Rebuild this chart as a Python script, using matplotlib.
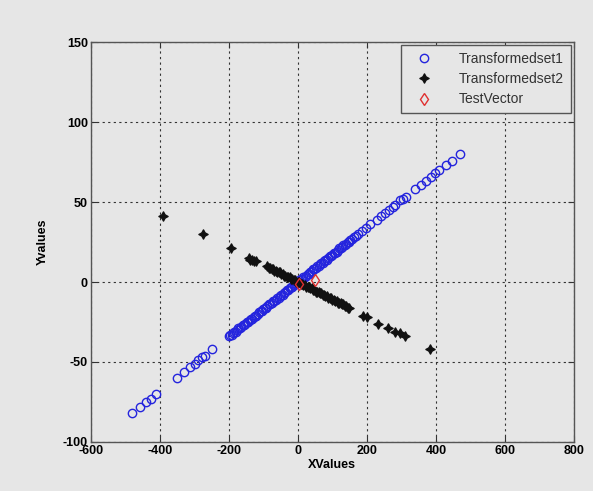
import matplotlib
matplotlib.use('Agg')

import matplotlib.pyplot as plt

# Transformedset1 (mavi halkalar): sol kol, yogun orta bolge, sag kol
set1_left_x = [-480, -457, -440, -425, -410, -350, -330, -312, -298, -288,
               -278, -268, -248, -200, -196, -192, -188, -184]
set1_left_y = [-82, -78, -75, -73, -70, -60, -56, -53, -51, -49,
               -47, -46, -42, -34, -33, -33, -32, -31]
set1_mid_x = [-180, -176, -172, -168, -164, -160, -156, -152, -148, -144,
              -140, -136, -132, -128, -124, -120, -116, -112, -108, -104,
              -100, -96, -92, -88, -84, -80, -76, -72, -68, -64,
              -60, -56, -52, -48, -44, -40, -36, -32, -28, -24,
              -20, -16, -12, -8, -4, 0, 4, 8, 12, 16,
              20, 24, 28, 32, 36, 40, 44, 48, 52, 56,
              60, 64, 68, 72, 76, 80, 84, 88, 92, 96,
              100, 104, 108, 112, 116, 120, 124, 128, 132, 136,
              140, 144, 148, 152, 156]
set1_mid_y = [-31, -30, -29, -29, -28, -27, -27, -26, -25, -25,
              -24, -23, -23, -22, -21, -21, -20, -19, -18, -18,
              -17, -16, -16, -15, -14, -14, -13, -12, -12, -11,
              -10, -10, -9, -8, -8, -7, -6, -5, -5, -4,
              -3, -3, -2, -1, -1, 0, 1, 1, 2, 3,
              3, 4, 5, 5, 6, 7, 8, 8, 9, 10,
              10, 11, 12, 12, 13, 14, 14, 15, 16, 16,
              17, 18, 18, 19, 20, 21, 21, 22, 23, 23,
              24, 25, 25, 26, 27]
set1_right_x = [162, 168, 175, 186, 196, 210, 228, 240, 252, 265,
                275, 282, 296, 305, 312, 340, 356, 370, 385, 396,
                410, 428, 447, 470]
set1_right_y = [28, 29, 30, 32, 34, 36, 39, 41, 43, 45,
                47, 48, 51, 52, 53, 58, 61, 63, 66, 68,
                70, 73, 76, 80]

# Transformedset2 (siyah yildizlar)
set2_left_x = [-390, -275, -195, -142, -138, -134, -128, -122]
set2_left_y = [41, 30, 21, 15, 14, 14, 13, 13]
set2_mid_x = [-88, -84, -80, -76, -72, -68, -64, -60, -56, -52,
              -48, -44, -40, -36, -32, -28, -24, -20, -16, -12,
              -8, -4, 0, 4, 8, 12, 16, 20, 24, 28,
              32, 36, 40, 44, 48, 52, 56, 60, 64, 68,
              72, 76, 80, 84, 88, 92, 96, 100, 104, 108,
              112, 116, 120, 124, 128, 132, 136, 140, 144, 148]
set2_mid_y = [10, 9, 9, 8, 8, 7, 7, 6, 6, 6,
              5, 5, 4, 4, 3, 3, 3, 2, 2, 1,
              1, 0, 0, 0, -1, -1, -2, -2, -3, -3,
              -3, -4, -4, -5, -5, -6, -6, -6, -7, -7,
              -8, -8, -9, -9, -10, -10, -10, -11, -11, -12,
              -12, -13, -13, -13, -14, -14, -15, -15, -16, -16]
set2_right_x = [190, 200, 232, 262, 280, 296, 310, 382]
set2_right_y = [-21, -22, -26, -29, -31, -32, -34, -42]

# TestVector (kirmizi elmas)
test_x = [2, 50]
test_y = [-1, 1]

x_ticks = [-600, -400, -200, 0, 200, 400, 600, 800]
y_ticks = [-100, -50, 0, 50, 100, 150]

set1_x = set1_left_x + set1_mid_x + set1_right_x
set1_y = set1_left_y + set1_mid_y + set1_right_y
set2_x = set2_left_x + set2_mid_x + set2_right_x
set2_y = set2_left_y + set2_mid_y + set2_right_y

plt.rcParams['font.family'] = ['Liberation Sans', 'DejaVu Sans']

bg = '#e6e6e6'
fig = plt.figure(figsize=(5.93, 4.91), dpi=100, facecolor=bg)
ax = fig.add_axes([0.153, 0.100, 0.815, 0.814], facecolor=bg)

ax.plot(set1_x, set1_y, 'o', color='#2424dd', markerfacecolor='none',
        markersize=6, markeredgewidth=1.0, label='Transformedset1')
ax.plot(set2_x, set2_y, marker=(4, 1, 0), linestyle='none', color='#111111',
        markersize=7, markeredgewidth=0.8, label='Transformedset2')
ax.plot(test_x, test_y, 'd', color='#e03030', markerfacecolor='none',
        markersize=6, markeredgewidth=1.0, label='TestVector')

ax.set_xlim(-600, 800)
ax.set_ylim(-100, 150)
ax.set_xticks(x_ticks)
ax.set_yticks(y_ticks)
ax.set_xticklabels([str(v) for v in x_ticks], fontweight='bold', fontsize=9)
ax.set_yticklabels([str(v) for v in y_ticks], fontweight='bold', fontsize=9)
ax.tick_params(direction='in', length=4, color='#333333', pad=2,
               top=True, right=True)

ax.grid(True, color='#333333', linestyle=(0, (2, 3)), linewidth=0.8)
for s in ax.spines.values():
    s.set_color('#555555')
    s.set_linewidth(1.0)

ax.set_xlabel('XValues', fontweight='bold', fontsize=9, labelpad=2)
ax.set_ylabel('Yvalues', fontweight='bold', fontsize=9, labelpad=10)

leg = ax.legend(loc='upper right', fontsize=10, frameon=True, fancybox=False,
                borderaxespad=0.2, handletextpad=1.3, handlelength=2.4,
                labelspacing=0.45, borderpad=0.5)
leg.get_frame().set_facecolor(bg)
leg.get_frame().set_edgecolor('#555555')
leg.get_frame().set_alpha(1)
for t in leg.get_texts():
    t.set_color('#333333')

plt.savefig('out.png', dpi=100, facecolor=bg)
